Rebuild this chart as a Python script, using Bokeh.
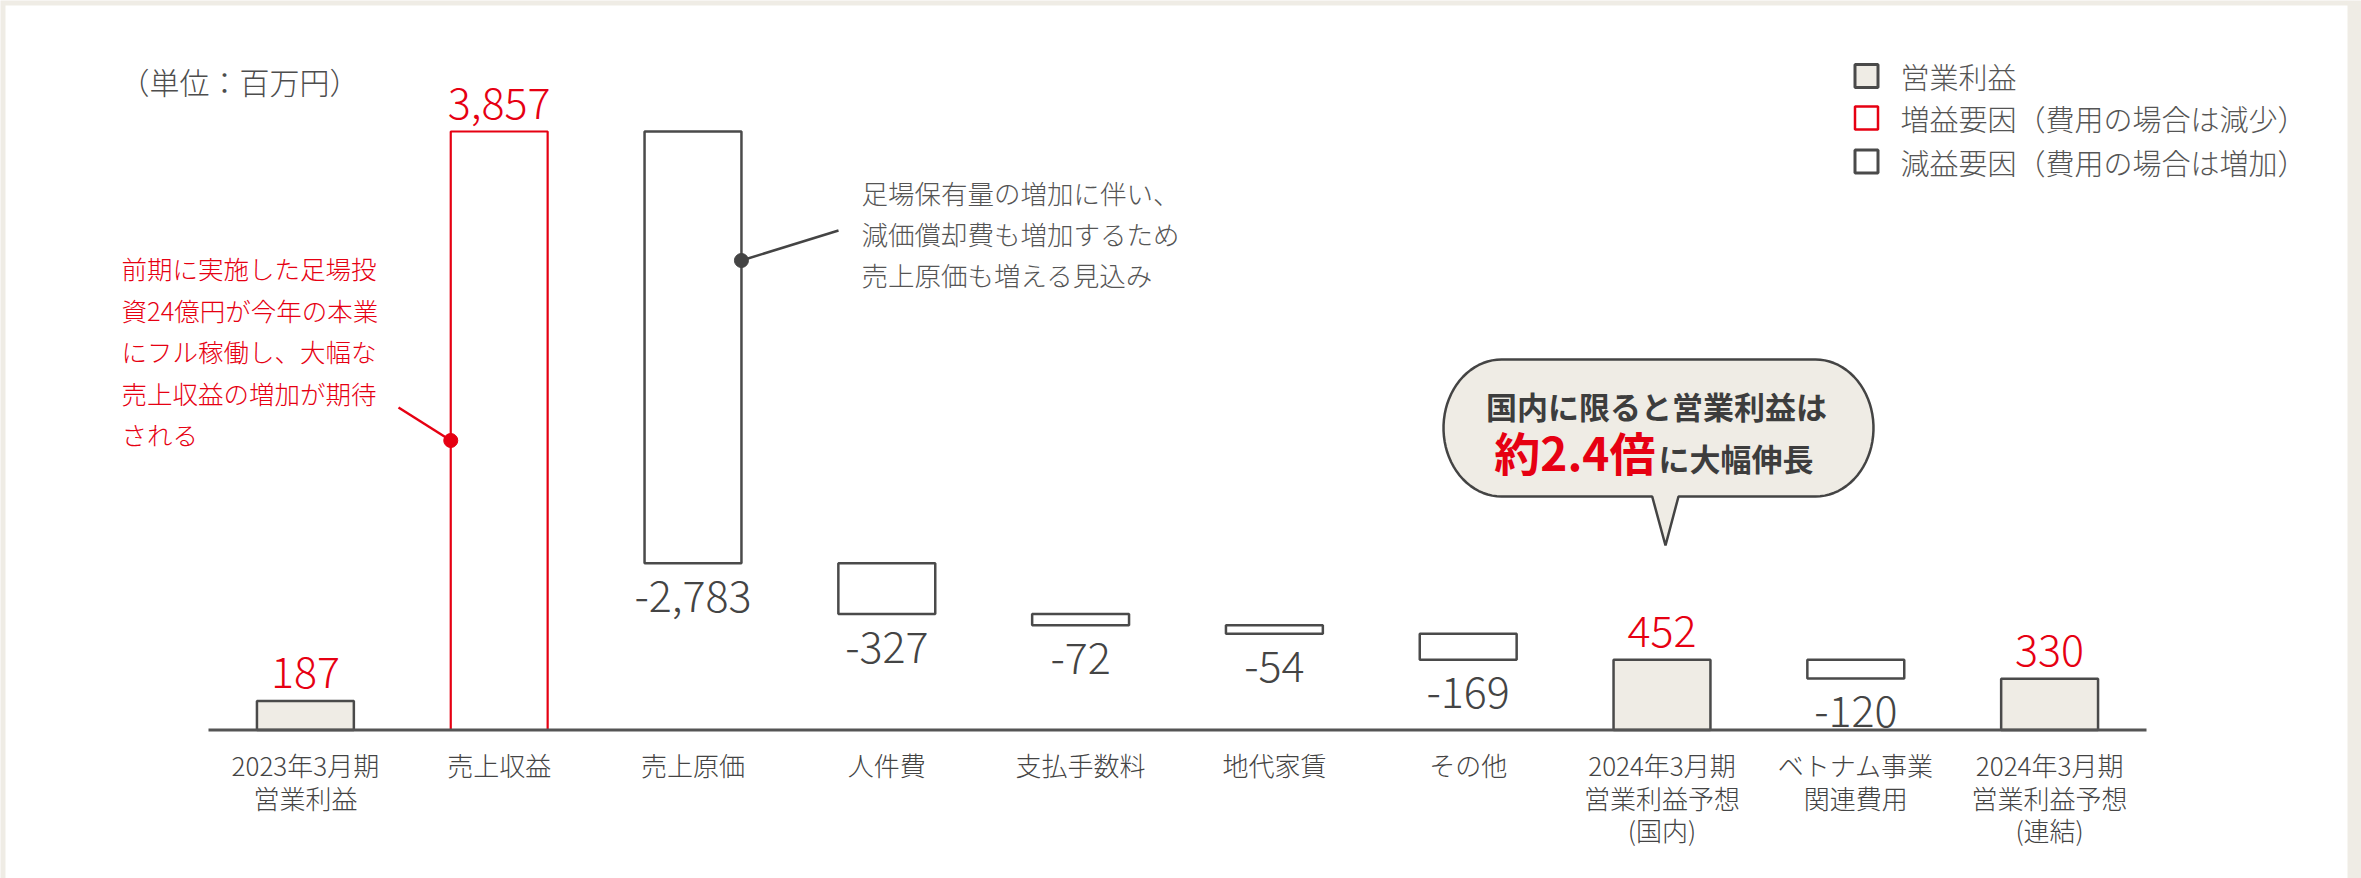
import numpy as np
from bokeh.plotting import figure
from bokeh.models import Range1d, ColumnDataSource
from bokeh.core.properties import value
from bokeh.embed import file_html
from bokeh.resources import INLINE

# ---------------- data ----------------
categories = ["2023年3月期\n営業利益", "売上収益", "売上原価", "人件費", "支払手数料",
              "地代家賃", "その他", "2024年3月期\n営業利益予想\n(国内)",
              "ベトナム事業\n関連費用", "2024年3月期\n営業利益予想\n(連結)"]
amounts = [187, 3857, -2783, -327, -72, -54, -169, 452, -120, 330]
kinds = ["total", "up", "down", "down", "down", "down", "down", "total", "down", "total"]
legend_labels = ["営業利益", "増益要因（費用の場合は減少）", "減益要因（費用の場合は増加）"]
unit_label = "（単位：百万円）"
note_red = ["前期に実施した足場投", "資24億円が今年の本業", "にフル稼働し、大幅な",
            "売上収益の増加が期待", "される"]
note_gray = ["足場保有量の増加に伴い、", "減価償却費も増加するため", "売上原価も増える見込み"]
bubble_line1 = "国内に限ると営業利益は"
bubble_big = "約2.4倍"
bubble_rest = "に大幅伸長"

# ---------------- style ----------------
FONT = "Noto Sans CJK JP"
LIGHT = "Noto Sans CJK JP Light, Noto Sans CJK JP"
RED = "#e60012"
DARK = "#4a4a4a"
TEXT = "#444444"
SOFT = "#555555"
BEIGE = "#efece5"

W, H = 2361, 878
LEFT = 208          # px where x = -0.5
XU = 193.8          # px per category
BASE = 729.5        # px (from top) where value 0 sits
YU = 0.15517        # px per million yen

XS = -0.5 - LEFT / XU


def dx(px):
    return XS + px / XU


def dy(py):
    return (BASE - py) / YU


# waterfall: deltas accumulate from zero, totals stand on the baseline
bottoms, tops = [], []
level = 0
for a, k in zip(amounts, kinds):
    if k == "total":
        bottoms.append(0)
        tops.append(a)
    else:
        bottoms.append(level)
        tops.append(level + a)
        level += a

p = figure(width=W, height=H, output_backend="svg", toolbar_location=None,
           x_range=Range1d(dx(0), dx(W)), y_range=Range1d(dy(H), dy(0)),
           x_axis_location=None, y_axis_location=None,
           min_border_left=0, min_border_right=0, min_border_top=0,
           min_border_bottom=0)
p.outline_line_color = None
p.grid.visible = False
p.background_fill_color = BEIGE
p.border_fill_color = BEIGE

# white panel
p.quad(left=[dx(5)], right=[dx(2347)], top=[dy(5)], bottom=[dy(H + 10)],
       fill_color="white", line_color=None)

# ---------------- bars ----------------
styles = {"total": (BEIGE, DARK, 2.5), "up": ("white", RED, 2.2), "down": ("white", DARK, 2.5)}
for kind, (fill, line, lw) in styles.items():
    idx = [i for i, k in enumerate(kinds) if k == kind]
    src = ColumnDataSource(dict(x=idx, top=[tops[i] for i in idx],
                                bottom=[bottoms[i] for i in idx]))
    p.vbar(x="x", top="top", bottom="bottom", width=0.5, source=src,
           fill_color=fill, line_color=line, line_width=lw)

# baseline
p.segment(x0=[-0.5], y0=[0], x1=[len(categories) - 0.5], y1=[0],
          line_color="#555555", line_width=3)

# category labels (one row per line)
cx, cy, ct, co = [], [], [], []
for i, c in enumerate(categories):
    for k, part in enumerate(c.split("\n")):
        cx.append(i)
        cy.append(0)
        ct.append(part)
        co.append(34.5 + 32.5 * k)
p.text(x=cx, y=cy, text=ct, y_offset=co, text_color=TEXT, text_font=value(LIGHT),
       text_font_size="26px", text_align="center", text_baseline="middle")

# value labels
pos = [i for i, a in enumerate(amounts) if a > 0]
neg = [i for i, a in enumerate(amounts) if a < 0]
p.text(x=pos, y=[max(bottoms[i], tops[i]) for i in pos],
       text=[f"{amounts[i]:,}" for i in pos], text_color=RED,
       text_font=value(LIGHT), text_font_size="43px", text_align="center",
       text_baseline="middle", y_offset=-28)
p.text(x=neg, y=[min(bottoms[i], tops[i]) for i in neg],
       text=[f"{amounts[i]:,}" for i in neg], text_color=TEXT,
       text_font=value(LIGHT), text_font_size="43px", text_align="center",
       text_baseline="middle", y_offset=33)

# ---------------- unit label ----------------
p.text(x=[dx(239)], y=[dy(80)], text=[unit_label], text_color="#4d4d4d",
       text_font=value(LIGHT), text_font_size="30px", text_align="center",
       text_baseline="middle")

# ---------------- red note ----------------
red_rows = [266.5, 308.5, 350, 391.5, 433]
p.text(x=[dx(121)] * len(note_red), y=[dy(r) for r in red_rows], text=note_red,
       text_color=RED, text_font=value(LIGHT), text_font_size="25.5px",
       text_align="left", text_baseline="middle")
red_dot = (1 - 0.25, dy(440))
p.line(x=[dx(398), red_dot[0]], y=[dy(407), red_dot[1]], line_color=RED, line_width=2.5)
p.scatter(x=[red_dot[0]], y=[red_dot[1]], size=14, fill_color=RED, line_color=RED)

# ---------------- gray note ----------------
gray_rows = [191.5, 232.5, 273.5]
p.text(x=[dx(861)] * len(note_gray), y=[dy(r) for r in gray_rows], text=note_gray,
       text_color=SOFT, text_font=value(LIGHT), text_font_size="26.5px",
       text_align="left", text_baseline="middle")
gray_dot = (2 + 0.25, dy(260))
p.line(x=[gray_dot[0], dx(838)], y=[gray_dot[1], dy(230)], line_color=TEXT, line_width=2.5)
p.scatter(x=[gray_dot[0]], y=[gray_dot[1]], size=14, fill_color=TEXT, line_color=TEXT)

# ---------------- legend ----------------
leg_rows = [75.5, 117.5, 161]
p.rect(x=[dx(1866)] * 3, y=[dy(r) for r in leg_rows], width=23, height=23,
       width_units="screen", height_units="screen",
       fill_color=[BEIGE, "white", "white"], line_color=[DARK, RED, DARK],
       line_width=[3, 2.5, 3])
p.text(x=[dx(1900)] * 3, y=[dy(r) for r in leg_rows], text=legend_labels,
       text_color=SOFT, text_font=value(LIGHT), text_font_size="29px",
       text_align="left", text_baseline="middle")

# ---------------- speech bubble ----------------
L, R, T, B = 1443.0, 1873.0, 359.0, 496.0
rx, ry = 58.0, (B - T) / 2
cyb = (T + B) / 2
tail_l, tail_r, tip = 1651.7, 1678.0, (1665.0, 545.0)
bx, by = [], []
t = np.linspace(-np.pi / 2, np.pi / 2, 40)
bx += list(R - rx + rx * np.cos(t)); by += list(cyb + ry * np.sin(t))
bx += [tail_r, tip[0], tail_l]; by += [B, tip[1], B]
t = np.linspace(np.pi / 2, 3 * np.pi / 2, 40)
bx += list(L + rx + rx * np.cos(t)); by += list(cyb + ry * np.sin(t))
p.patch(x=[dx(v) for v in bx], y=[dy(v) for v in by], fill_color=BEIGE,
        line_color="#444444", line_width=2.5)

p.text(x=[dx(1656)], y=[dy(404.5)], text=[bubble_line1], text_color="#3d3d3d",
       text_font=value(FONT), text_font_size="31px", text_font_style="bold",
       text_align="center", text_baseline="middle")
p.text(x=[dx(1655)], y=[dy(450)], text=[bubble_big], text_color=RED,
       text_font=value(FONT), text_font_size="46px", text_font_style="bold",
       text_align="right", text_baseline="middle")
p.text(x=[dx(1658)], y=[dy(456.5)], text=[bubble_rest], text_color="#3d3d3d",
       text_font=value(FONT), text_font_size="31px", text_font_style="bold",
       text_align="left", text_baseline="middle")

open("out.html", "w").write(file_html(p, INLINE))
